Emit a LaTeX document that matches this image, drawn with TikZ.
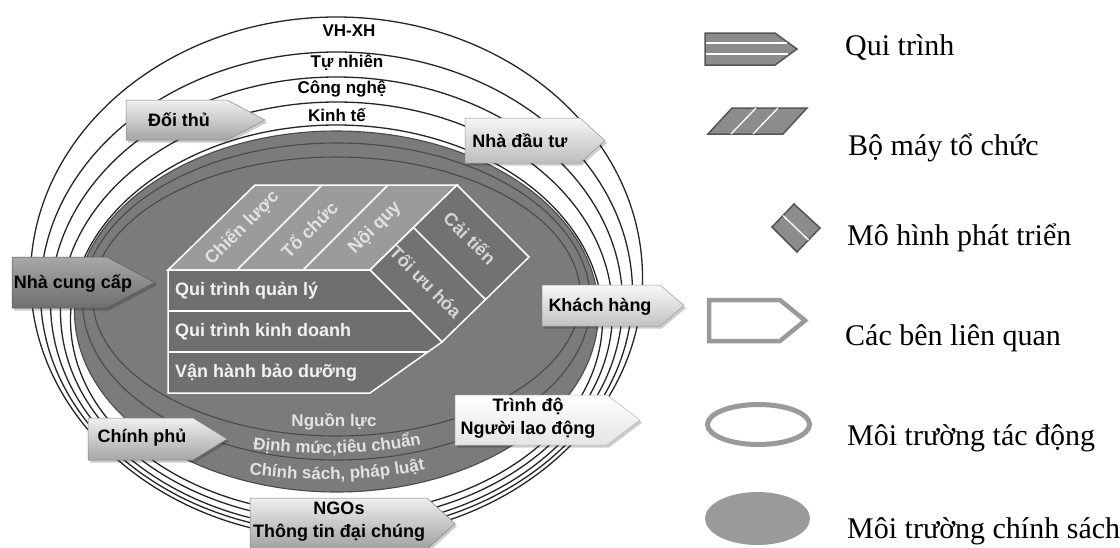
\documentclass[tikz,border=0pt]{standalone}
\usepackage{fontspec}
\setmainfont{Liberation Serif}
\newfontfamily\dfont{Liberation Sans}
\usetikzlibrary{decorations.text}
\definecolor{ggray}{HTML}{7B7B7B}
\definecolor{gline}{HTML}{4A4A4A}
\definecolor{frontf}{HTML}{6F6F6F}
\definecolor{topf}{HTML}{9B9B9B}
\definecolor{rightf}{HTML}{727272}
\definecolor{txtw}{HTML}{F2F2F2}
\definecolor{txtl}{HTML}{E2E2E2}
\definecolor{txtr}{HTML}{D6D6D6}
\definecolor{lgray}{HTML}{8C8C8C}
\definecolor{ldark}{HTML}{555555}
\definecolor{lline}{HTML}{9A9A9A}
\definecolor{aT}{HTML}{F0F0F0}\definecolor{aB}{HTML}{A6A6A6}
\definecolor{bT}{HTML}{F6F6F6}\definecolor{bB}{HTML}{BDBDBD}
\definecolor{cT}{HTML}{A8A8A8}\definecolor{cB}{HTML}{6E6E6E}
\definecolor{dT}{HTML}{F8F8F8}\definecolor{dB}{HTML}{C2C2C2}
\definecolor{eT}{HTML}{FFFFFF}\definecolor{eB}{HTML}{E4E4E4}
\definecolor{fT}{HTML}{EEEEEE}\definecolor{fB}{HTML}{A2A2A2}
\newcommand\stakearrow[7]{%
  \begin{scope}[shift={(2,2.5)}]
    \fill[black, opacity=0.2] (#1,#2) -- (#3,#2) -- (#4,{(#2+#5)/2}) -- (#3,#5) -- (#1,#5) -- cycle;
  \end{scope}
  \shade[top color=#6, bottom color=#7] (#1,#2) -- (#3,#2) -- (#4,{(#2+#5)/2}) -- (#3,#5) -- (#1,#5) -- cycle;
  \draw[#7!80!black, line width=0.5pt] (#1,#2) -- (#3,#2) -- (#4,{(#2+#5)/2}) -- (#3,#5) -- (#1,#5) -- cycle;
}
\tikzset{
  ring/.style={fill=white, draw=black!85, line width=1.3pt},
  glinestyle/.style={draw=gline, line width=1.1pt},
  facel/.style={draw=white, line width=1.5pt, line join=miter},
  dlabel/.style={font=\dfont\bfseries\fontsize{17}{19}\selectfont, inner sep=0pt},
  slabel/.style={font=\dfont\bfseries\fontsize{18}{23}\selectfont, inner sep=0pt, align=center},
  wlabel/.style={font=\dfont\bfseries\fontsize{18}{20}\selectfont, text=txtw, inner sep=0pt, anchor=west},
  tlabel/.style={font=\dfont\bfseries\fontsize{18}{20}\selectfont, text=txtl, inner sep=0pt, rotate=45},
  rlabel/.style={font=\dfont\bfseries\fontsize{18}{20}\selectfont, text=txtr, inner sep=0pt, rotate=-45},
  legtext/.style={font=\fontsize{30}{36}\selectfont, inner sep=0pt, anchor=base west},
}
\begin{document}
\begin{tikzpicture}[x=1pt,y=-1pt]
\useasboundingbox[fill=white] (0,0) rectangle (1120,547);
% environment rings
\filldraw[ring] (336.5,277.6) ellipse [x radius=306pt, y radius=260.6pt];
\filldraw[ring] (336.5,292.5) ellipse [x radius=296pt, y radius=240.5pt];
\filldraw[ring] (336.5,302.6) ellipse [x radius=286pt, y radius=225.6pt];
\filldraw[ring] (336.5,311.6) ellipse [x radius=276pt, y radius=209.6pt];
\filldraw[ring] (336.5,319.6) ellipse [x radius=266pt, y radius=194.6pt];
% policy ellipse
\filldraw[fill=ggray, glinestyle] (336.5,311.5) ellipse [x radius=262pt, y radius=180.5pt];
\draw[glinestyle] (336.5,301.5) ellipse [x radius=254pt, y radius=158.5pt];
\draw[glinestyle] (336.5,296.5) ellipse [x radius=244pt, y radius=139.5pt];
% ring labels
\node[dlabel] (vhxh) at (349,31) {VH-XH};
\node[dlabel] (tunhien) at (347,63) {Tự nhiên};
\node[dlabel] (congnghe) at (342,89) {Công nghệ};
\node[dlabel] (kinhte) at (337,115) {Kinh tế};
% box: top face
\filldraw[fill=topf, facel] (168,270) -- (255,185) -- (457,185) -- (370,270) -- cycle;
\draw[facel] (237,270) -- (322,185) (303,270) -- (388,185);
% right face
\filldraw[fill=rightf, facel] (370,270) -- (457,185) -- (529,257) -- (442,342) -- cycle;
\draw[facel] (413.5,227.5) -- (485.5,299.5);
% front face
\filldraw[fill=frontf, facel] (168,270) -- (370,270) -- (442,342) -- (370,393) -- (168,393) -- cycle;
\draw[facel] (168,311) -- (411,311) (168,352) -- (428,352);
% box texts
\node[wlabel] (qtql) at (175,291) {Qui trình quản lý};
\node[wlabel] (qtkd) at (175,332) {Qui trình kinh doanh};
\node[wlabel] (vhbd) at (175,373) {Vận hành bảo dưỡng};
\node[tlabel] (chienluoc) at (242,228) {Chiến lược};
\node[tlabel] (tochuc) at (309,229) {Tổ chức};
\node[tlabel] (noiquy) at (375,228) {Nội quy};
\node[rlabel] (toiuu) at (426,282) {Tối ưu hóa};
\node[rlabel] (caitien) at (470,238) {Cải tiến};
% policy labels
\node[font=\dfont\bfseries\fontsize{17}{19}\selectfont, text=txtl, inner sep=0pt] (nguonluc) at (334,422) {Nguồn lực};
\path[decorate, decoration={text along path, text align=center, text color=txtl,
  text={|\dfont\bfseries\fontsize{17}{19}\selectfont|Định mức,tiêu chuẩn}}]
  (232,446) .. controls (300,457) and (375,456) .. (442,440);
\path[decorate, decoration={text along path, text align=center, text color=txtl,
  text={|\dfont\bfseries\fontsize{17}{19}\selectfont|Chính sách, pháp luật}}]
  (232,472) .. controls (300,483) and (375,482) .. (442,466);
% stakeholders
\stakearrow{126}{100}{227}{265}{140}{aT}{aB}
\node[slabel] (doithu) at (179,120) {Đối thủ};
\stakearrow{465}{118}{580}{605}{163}{bT}{bB}
\node[slabel] (nhadautu) at (520,141) {Nhà đầu tư};
\stakearrow{12}{257}{107}{155}{308}{cT}{cB}
\node[slabel] (nhacungcap) at (73,283) {Nhà cung cấp};
\stakearrow{542}{285}{660}{684}{326}{dT}{dB}
\node[slabel] (khachhang) at (600,307) {Khách hàng};
\stakearrow{88}{418}{193}{227}{460}{aT}{aB}
\node[slabel] (chinhphu) at (142,438) {Chính phủ};
\stakearrow{455}{395}{607}{640}{445}{eT}{eB}
\node[slabel] (trinhdo) at (528,418) {Trình độ\\Người lao động};
\stakearrow{250}{498}{427}{455}{549}{fT}{fB}
\node[slabel] (ngos) at (339,522) {NGOs\\Thông tin đại chúng};
% legend
\filldraw[fill=lgray, draw=ldark, line width=1.5pt] (705,33) -- (775,33) -- (797,49) -- (775,65) -- (705,65) -- cycle;
\draw[white, line width=1.3pt] (706,43) -- (787,43) (706,54) -- (788,54);
\node[legtext] (lg1) at (845,55) {Qui trình};
\filldraw[fill=lgray, draw=ldark, line width=1.5pt] (708,134) -- (783,134) -- (807,108) -- (732,108) -- cycle;
\draw[white, line width=1.3pt] (731,134) -- (756,108) (753,134) -- (778,108);
\node[legtext] (lg2) at (848,155) {Bộ máy tổ chức};
\filldraw[fill=lgray, draw=ldark, line width=1.5pt] (772,227) -- (794,204) -- (820,228) -- (797,252) -- cycle;
\draw[white, line width=1.3pt] (783,215.5) -- (808.5,240);
\node[legtext] (lg3) at (847,245) {Mô hình phát triển};
\draw[lline, line width=4.5pt, line join=miter] (709,300) -- (780,300) -- (805,320.5) -- (780,341) -- (709,341) -- cycle;
\node[legtext] (lg4) at (845,345) {Các bên liên quan};
\draw[lline, line width=5pt] (758.5,424.5) ellipse [x radius=51pt, y radius=20pt];
\node[legtext] (lg5) at (847,445) {Môi trường tác động};
\fill[lline] (757.5,518.5) ellipse [x radius=52.5pt, y radius=26.5pt];
\node[legtext] (lg6) at (847,538) {Môi trường chính sách};
\end{tikzpicture}
\end{document}
